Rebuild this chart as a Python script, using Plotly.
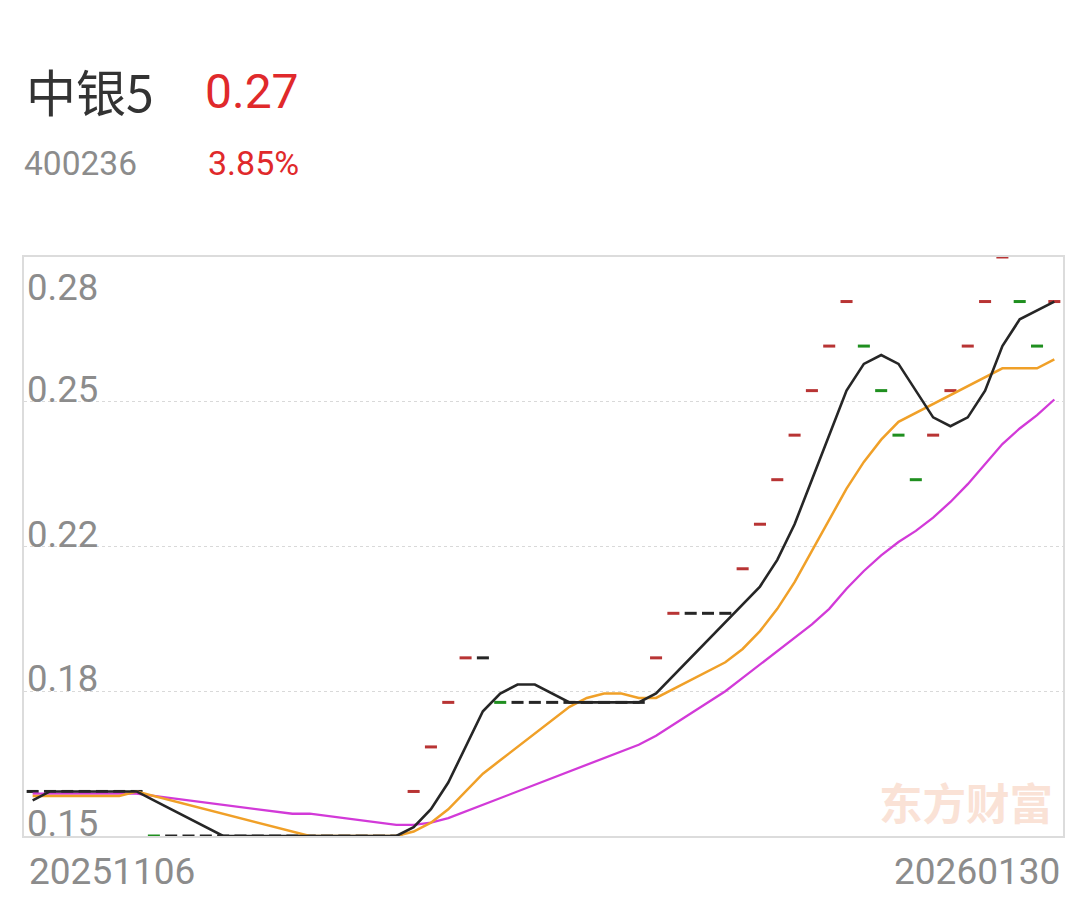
import plotly.graph_objects as go

# trading dates (60 sessions)
dates = (
    ["20251106", "20251107"]
    + [f"202511{d:02d}" for d in (10, 11, 12, 13, 14, 17, 18, 19, 20, 21, 24, 25, 26, 27, 28)]
    + [f"202512{d:02d}" for d in (1, 2, 3, 4, 5, 8, 9, 10, 11, 12, 15, 16, 17, 18, 19, 22, 23, 24, 25, 26, 29, 30, 31)]
    + [f"202601{d:02d}" for d in (5, 6, 7, 8, 9, 12, 13, 14, 15, 16, 19, 20, 21, 22, 23, 26, 27, 28, 29, 30)]
)

# daily price (open = close = high = low)
close = [0.16, 0.16, 0.16, 0.16, 0.16, 0.16, 0.16, 0.15, 0.15, 0.15,
         0.15, 0.15, 0.15, 0.15, 0.15, 0.15, 0.15, 0.15, 0.15, 0.15,
         0.15, 0.15, 0.16, 0.17, 0.18, 0.19, 0.19, 0.18, 0.18, 0.18,
         0.18, 0.18, 0.18, 0.18, 0.18, 0.18, 0.19, 0.20, 0.20, 0.20,
         0.20, 0.21, 0.22, 0.23, 0.24, 0.25, 0.26, 0.27, 0.26, 0.25,
         0.24, 0.23, 0.24, 0.25, 0.26, 0.27, 0.28, 0.27, 0.26, 0.27]

# direction vs previous close: 1 up, -1 down, 0 flat
direction = [0, 0, 0, 0, 0, 0, 0, -1, 0, 0,
             0, 0, 0, 0, 0, 0, 0, 0, 0, 0,
             0, 0, 1, 1, 1, 1, 0, -1, 0, 0,
             0, 0, 0, 0, 0, 0, 1, 1, 0, 0,
             0, 1, 1, 1, 1, 1, 1, 1, -1, -1,
             -1, -1, 1, 1, 1, 1, 1, -1, -1, 1]

ma5 = [0.158, 0.16, 0.16, 0.16, 0.16, 0.16, 0.16, 0.158, 0.156, 0.154,
       0.152, 0.15, 0.15, 0.15, 0.15, 0.15, 0.15, 0.15, 0.15, 0.15,
       0.15, 0.15, 0.152, 0.156, 0.162, 0.17, 0.178, 0.182, 0.184, 0.184,
       0.182, 0.18, 0.18, 0.18, 0.18, 0.18, 0.182, 0.186, 0.19, 0.194,
       0.198, 0.202, 0.206, 0.212, 0.22, 0.23, 0.24, 0.25, 0.256, 0.258,
       0.256, 0.25, 0.244, 0.242, 0.244, 0.25, 0.26, 0.266, 0.268, 0.27]

ma10 = [0.159, 0.159, 0.159, 0.159, 0.159, 0.159, 0.16, 0.159, 0.158, 0.157,
        0.156, 0.155, 0.154, 0.153, 0.152, 0.151, 0.15, 0.15, 0.15, 0.15,
        0.15, 0.15, 0.151, 0.153, 0.156, 0.16, 0.164, 0.167, 0.17, 0.173,
        0.176, 0.179, 0.181, 0.182, 0.182, 0.181, 0.181, 0.183, 0.185, 0.187,
        0.189, 0.192, 0.196, 0.201, 0.207, 0.214, 0.221, 0.228, 0.234, 0.239,
        0.243, 0.245, 0.247, 0.249, 0.251, 0.253, 0.255, 0.255, 0.255, 0.257]

ma20 = [0.1595, 0.1595, 0.1595, 0.1595, 0.1595, 0.1595, 0.1595, 0.159, 0.1585, 0.158,
        0.1575, 0.157, 0.1565, 0.156, 0.1555, 0.155, 0.155, 0.1545, 0.154, 0.1535,
        0.153, 0.1525, 0.1525, 0.153, 0.154, 0.1555, 0.157, 0.1585, 0.16, 0.1615,
        0.163, 0.1645, 0.166, 0.1675, 0.169, 0.1705, 0.1725, 0.175, 0.1775, 0.18,
        0.1825, 0.1855, 0.1885, 0.1915, 0.1945, 0.1975, 0.201, 0.2055, 0.2095, 0.213,
        0.216, 0.2185, 0.2215, 0.225, 0.229, 0.2335, 0.238, 0.2415, 0.2445, 0.248]

y_min, y_max = 0.15, 0.28
grid_vals = [0.1825, 0.215, 0.2475]
y_labels = ["0.15", "0.18", "0.22", "0.25", "0.28"]
y_label_pos = [0.15, 0.1825, 0.215, 0.2475, 0.28]

name = "中银5"
code = "400236"
last_price = "0.27"
change_pct = "3.85%"

color_map = {1: "#b83434", -1: "#1f8f1f", 0: "#262626"}
dash_colors = [color_map[d] for d in direction]

fig = go.Figure()

fig.add_trace(go.Scatter(
    x=dates, y=close, mode="markers",
    marker=dict(symbol="line-ew", size=8.6, color=dash_colors,
                line=dict(width=3, color=dash_colors)),
    hoverinfo="skip", showlegend=False,
))

fig.add_trace(go.Scatter(x=dates, y=ma20, mode="lines",
                         line=dict(color="#d23ad8", width=2.3), showlegend=False))
fig.add_trace(go.Scatter(x=dates, y=ma10, mode="lines",
                         line=dict(color="#f0a028", width=2.5), showlegend=False))
fig.add_trace(go.Scatter(x=dates, y=ma5, mode="lines",
                         line=dict(color="#262626", width=2.6), showlegend=False))

# page has an 8px body margin: plot area in page = x 24..1063, y 257..836
PL, PR, PT, PB = 24, 1063, 257, 836
OFF = 8
W, H = 1092 - OFF, 897 - OFF

fig.update_layout(
    width=W, height=H,
    margin=dict(l=PL - OFF, r=1092 - PR, t=PT - OFF, b=897 - PB, pad=0),
    paper_bgcolor="white", plot_bgcolor="white",
    font=dict(family="Roboto, 'Noto Sans CJK SC', sans-serif"),
    xaxis=dict(type="category", range=[-0.5, len(dates) - 0.5],
               showticklabels=False, showgrid=False, zeroline=False,
               showline=True, mirror=True, linecolor="#dcdcdc", linewidth=2,
               ticks=""),
    yaxis=dict(range=[y_min, y_max], tickvals=grid_vals, showticklabels=False,
               showgrid=True, gridcolor="#d9d9d9", griddash="dot", gridwidth=1,
               zeroline=False, showline=True, mirror=True,
               linecolor="#dcdcdc", linewidth=2, ticks=""),
)


def pg(text, px, py, size, color, xanchor="left", family="Roboto, 'Noto Sans CJK SC'"):
    # px, py: pixel positions in the 1092x897 page (ink centre vertically)
    return dict(x=(px - PL) / (PR - PL), xref="paper", xanchor=xanchor,
                y=(PB - py) / (PB - PT), yref="paper", yanchor="middle",
                text=text, showarrow=False,
                font=dict(size=size, color=color, family=family))


annotations = []
label_centres = {"0.28": 285, "0.25": 387, "0.22": 532, "0.18": 676, "0.15": 821}
for lbl in y_labels:
    annotations.append(pg(lbl, 25, label_centres[lbl] + 2, 36.5, "#8c8c8c"))

annotations.append(pg(dates[0], 27, 871, 37, "#8c8c8c"))
annotations.append(pg(dates[-1], 1062, 871, 37, "#8c8c8c", xanchor="right"))

annotations.append(pg(name, 24, 90, 50, "#333333", family="'Noto Sans CJK SC', Roboto"))
annotations.append(pg(last_price, 203, 91, 48, "#e0292b"))
annotations.append(pg(code, 22, 163, 33.5, "#8c8c8c"))
annotations.append(pg(change_pct, 206, 163, 34, "#e0292b"))
annotations.append(pg("<b>东方财富</b>", 877, 801, 43.5, "#fae2d6",
                      family="'Noto Sans CJK SC'"))

fig.update_layout(annotations=annotations)

fig.write_html("out.html")
